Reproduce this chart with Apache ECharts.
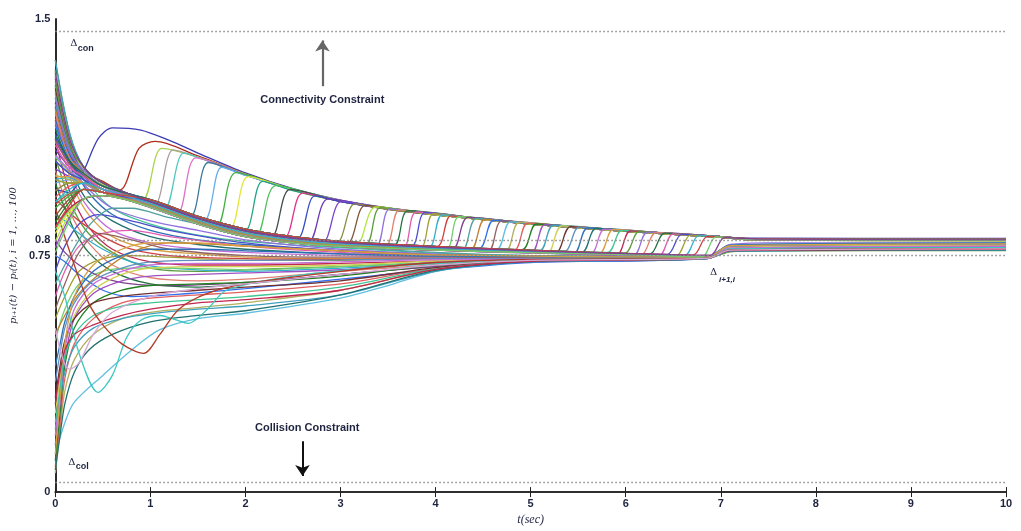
<!DOCTYPE html>
<html><head><meta charset="utf-8">
<script src="https://cdn.jsdelivr.net/npm/echarts@6/dist/echarts.min.js"></script>
<style>html,body{margin:0;padding:0;background:#fff;overflow:hidden}#c{width:1021px;height:531px}</style>
</head><body><div id="c"></div>
<script>
// ---------------- DATA ----------------
const yTickLabels = [0, 0.75, 0.8, 1.5];
const refLevels = [1.462, 0.034, 0.8, 0.75];           // Δcon, Δcol, dotted levels
const connArrow = [[2.81, 1.287], [2.81, 1.432]];
const collArrow = [[2.60, 0.161], [2.60, 0.051]];

// flat [t,y,t,y,...] lists
const decayLines = [
 [0,1.34, 0.1,1.15, 0.2,1.03, 0.35,0.95, 0.6,0.88, 1,0.83, 1.5,0.80, 2,0.785, 3,0.765, 4,0.752, 5,0.747, 6.85,0.745, 7.1,0.775, 7.5,0.78, 10,0.781],
 [0,1.29, 0.1,1.12, 0.2,1.0, 0.35,0.92, 0.6,0.86, 1,0.81, 1.5,0.785, 2,0.77, 3,0.755, 4,0.748, 5,0.745, 6.85,0.744, 7.1,0.772, 7.5,0.777, 10,0.778],
 [0,1.22, 0.1,1.08, 0.2,0.98, 0.35,0.9, 0.6,0.83, 1,0.79, 1.5,0.77, 2,0.76, 3,0.75, 4,0.746, 5,0.744, 6.85,0.743, 7.1,0.768, 7.5,0.772, 10,0.773],
 [0,1.18, 0.1,1.05, 0.2,0.96, 0.35,0.88, 0.6,0.81, 1,0.77, 1.5,0.755, 2,0.745, 3,0.74, 4,0.74, 5,0.742, 6.85,0.742, 7.1,0.765, 7.5,0.768, 10,0.769],
 [0,1.32, 0.1,1.2, 0.2,1.08, 0.35,0.98, 0.6,0.9, 1,0.85, 1.5,0.815, 2,0.795, 3,0.775, 4,0.758, 5,0.75, 6.85,0.746, 7.1,0.78, 7.5,0.786, 10,0.787],
 [0,1.12, 0.1,1.0, 0.2,0.92, 0.35,0.84, 0.6,0.77, 1,0.73, 1.5,0.72, 2,0.72, 3,0.725, 4,0.733, 5,0.738, 6.85,0.742, 7.1,0.763, 7.5,0.766, 10,0.767],
 [0,1.06, 0.1,0.97, 0.2,0.89, 0.35,0.82, 0.6,0.76, 1,0.71, 1.5,0.7, 2,0.705, 3,0.715, 4,0.727, 5,0.735, 6.85,0.741, 7.1,0.762, 7.5,0.765, 10,0.766],
 [0,1.25, 0.1,1.1, 0.2,1.02, 0.35,0.96, 0.6,0.9, 1,0.86, 1.5,0.83, 2,0.8, 3,0.77, 4,0.755, 5,0.748, 6.85,0.745, 7.1,0.785, 7.5,0.79, 10,0.79],
 [0,1.02, 0.1,0.93, 0.2,0.86, 0.35,0.79, 0.6,0.72, 1,0.68, 1.5,0.67, 2,0.675, 3,0.7, 4,0.72, 5,0.733, 6.85,0.74, 7.1,0.77, 7.5,0.775, 10,0.776],
 [0,0.98, 0.1,0.9, 0.2,0.83, 0.35,0.76, 0.6,0.7, 1,0.66, 1.5,0.65, 2,0.66, 3,0.69, 4,0.715, 5,0.73, 6.85,0.74, 7.1,0.767, 7.5,0.771, 10,0.772]
];
const midLines = [
 [0,0.62, 0.1,0.7, 0.25,0.78, 0.5,0.82, 0.8,0.83, 1.2,0.81, 2,0.78, 3,0.76, 4,0.75, 5,0.746, 6.85,0.744, 7.1,0.772, 10,0.776],
 [0,0.7, 0.1,0.78, 0.25,0.85, 0.45,0.88, 0.8,0.86, 1.2,0.83, 2,0.79, 3,0.765, 4,0.752, 6.85,0.745, 7.1,0.778, 10,0.784],
 [0,0.55, 0.1,0.62, 0.25,0.7, 0.5,0.74, 0.8,0.75, 1.2,0.745, 2,0.735, 3,0.735, 4,0.74, 6.85,0.743, 7.1,0.77, 10,0.774],
 [0,0.88, 0.1,0.86, 0.25,0.82, 0.5,0.77, 0.8,0.73, 1.2,0.71, 2,0.7, 3,0.71, 4,0.725, 5,0.735, 6.85,0.741, 7.1,0.764, 10,0.768],
 [0,0.93, 0.1,0.9, 0.25,0.86, 0.5,0.81, 0.8,0.77, 1.2,0.75, 2,0.74, 3,0.738, 4,0.74, 6.85,0.743, 7.1,0.775, 10,0.782],
 [0,0.48, 0.1,0.58, 0.25,0.66, 0.5,0.7, 0.8,0.71, 1.2,0.71, 2,0.705, 3,0.715, 4,0.728, 5,0.736, 6.85,0.741, 7.1,0.766, 10,0.77],
 [0,0.8, 0.1,0.76, 0.25,0.72, 0.5,0.68, 0.8,0.66, 1.2,0.655, 2,0.665, 3,0.69, 4,0.715, 5,0.73, 6.85,0.74, 7.1,0.768, 10,0.772],
 [0,0.66, 0.1,0.72, 0.25,0.8, 0.4,0.86, 0.6,0.9, 0.8,0.9, 1.2,0.87, 2,0.82, 3,0.78, 4,0.76, 5,0.75, 6.85,0.745, 7.1,0.782, 10,0.788],
 [0,0.5, 0.1,0.56, 0.25,0.63, 0.5,0.7, 0.8,0.76, 1.2,0.79, 2,0.78, 3,0.765, 4,0.752, 6.85,0.744, 7.1,0.774, 10,0.779],
 [0,0.75, 0.1,0.73, 0.25,0.69, 0.5,0.64, 0.8,0.62, 1.2,0.625, 2,0.645, 3,0.675, 4,0.705, 5,0.728, 6.85,0.74, 7.1,0.77, 10,0.774],
 [0,0.58, 0.1,0.66, 0.25,0.76, 0.45,0.82, 0.8,0.8, 1.2,0.77, 2,0.75, 3,0.745, 4,0.745, 6.85,0.744, 7.1,0.773, 10,0.777]
];
const riseLines = [
 [0,0.12, 0.1,0.22, 0.2,0.285, 0.5,0.37, 0.8,0.45, 1.1,0.515, 1.5,0.55, 2,0.567, 3,0.615, 3.5,0.655, 4,0.7, 4.5,0.722, 5,0.732, 6.85,0.74, 7.1,0.764, 10,0.768],
 [0,0.06, 0.05,0.2, 0.1,0.32, 0.2,0.42, 0.4,0.5, 0.7,0.55, 1,0.57, 1.5,0.585, 2,0.6, 3,0.64, 4,0.705, 5,0.732, 6.85,0.741, 7.1,0.766, 10,0.77],
 [0,0.08, 0.05,0.22, 0.1,0.36, 0.2,0.47, 0.4,0.55, 0.7,0.6, 1,0.615, 1.5,0.625, 2,0.635, 3,0.66, 4,0.71, 5,0.734, 6.85,0.742, 7.1,0.768, 10,0.772],
 [0,0.1, 0.05,0.25, 0.1,0.4, 0.2,0.52, 0.4,0.6, 0.7,0.64, 1,0.655, 1.5,0.66, 2,0.665, 3,0.685, 4,0.72, 5,0.737, 6.85,0.742, 7.1,0.77, 10,0.775],
 [0,0.15, 0.05,0.28, 0.1,0.42, 0.2,0.55, 0.4,0.63, 0.7,0.67, 1,0.685, 1.5,0.69, 2,0.695, 3,0.705, 4,0.728, 5,0.74, 6.85,0.743, 7.1,0.772, 10,0.778],
 [0,0.2, 0.05,0.3, 0.1,0.38, 0.2,0.46, 0.4,0.52, 0.7,0.55, 1,0.565, 1.5,0.58, 2,0.59, 3,0.625, 4,0.7, 5,0.73, 6.85,0.741, 7.1,0.765, 10,0.769],
 [0,0.25, 0.05,0.36, 0.1,0.46, 0.2,0.56, 0.4,0.64, 0.7,0.69, 1,0.71, 1.5,0.715, 2,0.715, 3,0.72, 4,0.733, 5,0.741, 6.85,0.744, 7.1,0.776, 10,0.783],
 [0,0.3, 0.05,0.4, 0.1,0.48, 0.2,0.55, 0.4,0.6, 0.7,0.62, 1,0.63, 1.5,0.64, 2,0.65, 3,0.67, 4,0.712, 5,0.735, 6.85,0.742, 7.1,0.769, 10,0.773],
 [0,0.35, 0.05,0.44, 0.1,0.52, 0.2,0.6, 0.4,0.67, 0.7,0.71, 1,0.73, 1.5,0.735, 2,0.735, 3,0.736, 4,0.74, 6.85,0.744, 7.1,0.78, 10,0.786],
 [0,0.4, 0.05,0.47, 0.1,0.54, 0.2,0.62, 0.4,0.7, 0.7,0.75, 1,0.77, 1.5,0.77, 2,0.765, 3,0.755, 4,0.748, 6.85,0.745, 7.1,0.783, 10,0.79],
 [0,0.07, 0.05,0.18, 0.1,0.28, 0.2,0.38, 0.35,0.45, 0.6,0.5, 1,0.54, 1.5,0.56, 2,0.575, 3,0.625, 4,0.703, 5,0.731, 6.85,0.74, 7.1,0.765, 10,0.768],
 [0,0.18, 0.05,0.32, 0.1,0.45, 0.2,0.58, 0.4,0.66, 0.7,0.7, 1,0.72, 1.5,0.725, 2,0.725, 3,0.73, 4,0.737, 6.85,0.743, 7.1,0.774, 10,0.78],
 [0,0.12, 0.05,0.3, 0.1,0.47, 0.2,0.62, 0.4,0.72, 0.7,0.77, 1,0.79, 1.5,0.79, 2,0.78, 3,0.765, 4,0.752, 6.85,0.745, 7.1,0.781, 10,0.787],
 [0,0.22, 0.05,0.33, 0.1,0.43, 0.2,0.5, 0.4,0.56, 0.7,0.59, 1,0.6, 1.5,0.61, 2,0.62, 3,0.65, 4,0.708, 5,0.733, 6.85,0.741, 7.1,0.767, 10,0.771],
 [0,0.28, 0.05,0.38, 0.1,0.45, 0.2,0.5, 0.4,0.53, 0.7,0.56, 1,0.58, 1.5,0.6, 2,0.61, 3,0.64, 4,0.706, 5,0.732, 6.85,0.741, 7.1,0.766, 10,0.77]
];
const dipLines = [
 [0,0.7, 0.1,0.62, 0.25,0.44, 0.45,0.316, 0.6,0.37, 0.75,0.49, 0.9,0.545, 1.1,0.56, 1.25,0.548, 1.4,0.535, 1.6,0.58, 1.8,0.64, 2.5,0.685, 3.5,0.715, 5,0.738, 6.85,0.742, 7.1,0.771, 10,0.775],
 [0,0.9, 0.2,0.72, 0.35,0.6, 0.5,0.53, 0.7,0.47, 0.93,0.44, 1.1,0.5, 1.3,0.58, 1.6,0.63, 2,0.66, 3,0.7, 4,0.728, 5,0.738, 6.85,0.742, 7.1,0.768, 10,0.772],
 [0,0.52, 0.08,0.42, 0.15,0.39, 0.25,0.41, 0.4,0.5, 0.6,0.57, 1,0.62, 1.5,0.645, 2,0.66, 3,0.69, 4,0.72, 5,0.735, 6.85,0.741, 7.1,0.767, 10,0.771]
];
const jumpLines = [
 [0,0.96, 0.15,0.95, 0.3,1.02, 0.45,1.12, 0.6,1.155, 0.9,1.148, 1.2,1.115, 1.5,1.075, 2,1.012, 2.5,0.962, 3,0.926, 3.5,0.901, 4,0.883, 5,0.853, 6,0.83, 7,0.81, 7.3,0.805, 10,0.804],
 [0,1.31, 0.15,1.11, 0.3,1.02, 0.5,0.985, 0.68,0.958, 0.88,1.09, 1.05,1.112, 1.5,1.066, 2,1.009, 2.5,0.96, 3,0.925, 3.5,0.9, 4,0.882, 5,0.852, 6,0.829, 7,0.81, 7.3,0.804, 10,0.802],
 [0,1.26, 0.15,1.09, 0.3,1.01, 0.5,0.975, 0.7,0.95, 0.92,0.927, 1.12,1.09, 1.5,1.062, 2,1.008, 2.5,0.96, 3,0.925, 3.5,0.9, 4,0.882, 5,0.852, 6,0.829, 7,0.81, 7.3,0.803, 10,0.801],
 [0,1.21, 0.15,1.08, 0.3,1.01, 0.5,0.97, 0.8,0.935, 1.04,0.91, 1.24,1.085, 1.5,1.062, 2,1.007, 2.5,0.959, 3,0.924, 3.5,0.9, 4,0.881, 5,0.851, 6,0.829, 7,0.81, 7.3,0.803, 10,0.801],
 [0,1.16, 0.15,1.06, 0.3,1.0, 0.5,0.96, 1,0.915, 1.15,0.897, 1.35,1.075, 1.6,1.05, 2,1.006, 2.5,0.959, 3,0.924, 3.5,0.899, 4,0.881, 5,0.851, 6,0.828, 7,0.809, 7.3,0.802, 10,0.8],
 [0,1.11, 0.15,1.04, 0.3,0.99, 0.5,0.95, 1,0.914, 1.28,0.883, 1.48,1.06, 2,1.006, 2.5,0.958, 3,0.924, 3.5,0.899, 4,0.881, 5,0.851, 6,0.828, 7,0.809, 7.3,0.802, 10,0.8],
 [0,1.05, 0.15,1.01, 0.3,0.98, 0.5,0.95, 1,0.915, 1.41,0.87, 1.61,1.045, 2,1.005, 2.5,0.958, 3,0.923, 3.5,0.899, 4,0.88, 5,0.851, 6,0.828, 7,0.809, 7.3,0.802, 10,0.8],
 [0,0.98, 0.15,0.99, 0.3,0.98, 0.5,0.96, 1,0.916, 1.55,0.857, 1.75,1.03, 2,1.004, 2.5,0.958, 3,0.923, 3.5,0.899, 4,0.88, 5,0.851, 6,0.828, 7,0.809, 7.3,0.802, 10,0.8],
 [0,0.9, 0.15,0.94, 0.3,0.96, 0.5,0.95, 1,0.913, 1.5,0.861, 1.7,0.845, 1.9,1.013, 2.5,0.957, 3,0.923, 3.5,0.898, 4,0.88, 5,0.85, 6,0.828, 7,0.809, 7.3,0.801, 10,0.799],
 [0,0.82, 0.15,0.89, 0.3,0.93, 0.5,0.94, 1,0.914, 1.5,0.862, 1.83,0.835, 2.03,1.0, 2.5,0.957, 3,0.922, 3.5,0.898, 4,0.88, 5,0.85, 6,0.828, 7,0.809, 7.3,0.801, 10,0.799],
 [0,1.335, 0.15,1.12, 0.3,1.03, 0.5,0.98, 1,0.917, 1.5,0.863, 1.98,0.823, 2.18,0.985, 2.5,0.956, 3,0.922, 3.5,0.898, 4,0.88, 5,0.85, 6,0.828, 7,0.809, 7.3,0.801, 10,0.8],
 [0,1.285, 0.15,1.1, 0.3,1.02, 0.5,0.97, 1,0.916, 1.5,0.862, 2,0.822, 2.12,0.816, 2.32,0.972, 3,0.922, 3.5,0.898, 4,0.879, 5,0.85, 6,0.827, 7,0.808, 7.3,0.8, 10,0.799],
 [0,1.235, 0.15,1.08, 0.3,1.01, 0.5,0.96, 1,0.915, 1.5,0.862, 2,0.822, 2.27,0.809, 2.47,0.96, 3,0.922, 3.5,0.898, 4,0.879, 5,0.85, 6,0.827, 7,0.808, 7.3,0.8, 10,0.799],
 [0,1.185, 0.15,1.07, 0.3,1.01, 0.5,0.97, 1,0.914, 1.5,0.861, 2,0.821, 2.4,0.804, 2.6,0.948, 3,0.921, 3.5,0.897, 4,0.879, 5,0.85, 6,0.827, 7,0.808, 7.3,0.8, 10,0.799],
 [0,1.135, 0.15,1.05, 0.3,1.0, 0.5,0.96, 1,0.915, 1.5,0.862, 2,0.822, 2.53,0.799, 2.73,0.939, 3,0.921, 3.5,0.897, 4,0.879, 5,0.85, 6,0.827, 7,0.808, 7.3,0.8, 10,0.798],
 [0,1.085, 0.15,1.03, 0.3,0.99, 0.5,0.95, 1,0.916, 1.5,0.863, 2,0.823, 2.5,0.8, 2.67,0.795, 2.87,0.93, 3.5,0.897, 4,0.879, 5,0.85, 6,0.827, 7,0.808, 7.3,0.8, 10,0.798],
 [0,1.025, 0.15,1.0, 0.3,0.98, 0.5,0.95, 1,0.915, 1.5,0.862, 2,0.822, 2.5,0.8, 2.81,0.792, 3.01,0.922, 3.5,0.897, 4,0.879, 5,0.85, 6,0.827, 7,0.808, 7.3,0.8, 10,0.798],
 [0,0.955, 0.15,0.98, 0.3,0.98, 0.5,0.96, 1,0.914, 1.5,0.861, 2,0.821, 2.5,0.8, 2.95,0.788, 3.15,0.914, 3.5,0.896, 4,0.879, 5,0.85, 6,0.827, 7,0.808, 7.3,0.8, 10,0.798],
 [0,0.875, 0.15,0.93, 0.3,0.96, 0.5,0.95, 1,0.913, 1.5,0.86, 2,0.82, 2.5,0.799, 3.06,0.786, 3.26,0.909, 3.7,0.892, 4,0.879, 5,0.85, 6,0.827, 7,0.808, 7.3,0.8, 10,0.797],
 [0,0.795, 0.15,0.88, 0.3,0.93, 0.5,0.94, 1,0.915, 1.5,0.862, 2,0.822, 2.5,0.8, 3,0.787, 3.17,0.784, 3.37,0.904, 4,0.879, 5,0.85, 6,0.827, 7,0.808, 7.3,0.8, 10,0.797],
 [0,1.37, 0.15,1.136, 0.3,1.03, 0.5,0.98, 1,0.921, 1.5,0.868, 2,0.828, 2.5,0.805, 3,0.791, 3.27,0.786, 3.42,0.902, 4,0.882, 5,0.852, 6,0.829, 7,0.81, 7.3,0.803, 10,0.8],
 [0,1.322, 0.15,1.116, 0.3,1.02, 0.5,0.97, 1,0.909, 1.5,0.856, 2,0.816, 2.5,0.795, 3,0.783, 3.37,0.778, 3.52,0.898, 4,0.882, 5,0.852, 6,0.829, 7,0.81, 7.3,0.802, 10,0.8],
 [0,1.272, 0.15,1.096, 0.3,1.01, 0.5,0.96, 1,0.915, 1.5,0.862, 2,0.822, 2.5,0.8, 3,0.787, 3.47,0.779, 3.62,0.895, 4,0.882, 5,0.852, 6,0.829, 7,0.81, 7.3,0.802, 10,0.799],
 [0,1.222, 0.15,1.086, 0.3,1.01, 0.5,0.97, 1,0.927, 1.5,0.874, 2,0.834, 2.5,0.81, 3,0.795, 3.56,0.782, 3.71,0.892, 4.5,0.866, 5,0.852, 6,0.829, 7,0.81, 7.3,0.802, 10,0.801],
 [0,1.172, 0.15,1.066, 0.3,1.0, 0.5,0.96, 1,0.903, 1.5,0.85, 2,0.81, 2.5,0.79, 3,0.779, 3.65,0.772, 3.8,0.888, 4.5,0.866, 5,0.852, 6,0.829, 7,0.81, 7.3,0.801, 10,0.799],
 [0,1.122, 0.15,1.046, 0.3,0.99, 0.5,0.95, 1,0.921, 1.5,0.868, 2,0.828, 2.5,0.805, 3,0.791, 3.74,0.779, 3.89,0.886, 4.5,0.866, 5,0.852, 6,0.829, 7,0.81, 7.3,0.802, 10,0.8],
 [0,1.062, 0.15,1.016, 0.3,0.98, 0.5,0.95, 1,0.909, 1.5,0.856, 2,0.816, 2.5,0.795, 3,0.783, 3.83,0.772, 3.98,0.883, 4.5,0.866, 5,0.852, 6,0.829, 7,0.81, 7.3,0.801, 10,0.798],
 [0,0.992, 0.15,0.996, 0.3,0.98, 0.5,0.96, 1,0.915, 1.5,0.862, 2,0.822, 2.5,0.8, 3,0.787, 3.92,0.774, 4.07,0.879, 4.5,0.866, 5,0.852, 6,0.829, 7,0.81, 7.3,0.802, 10,0.8],
 [0,0.912, 0.15,0.946, 0.3,0.96, 0.5,0.95, 1,0.927, 1.5,0.874, 2,0.834, 2.5,0.81, 3,0.795, 4.01,0.778, 4.16,0.876, 4.5,0.866, 5,0.852, 6,0.829, 7,0.81, 7.3,0.803, 10,0.801],
 [0,0.832, 0.15,0.896, 0.3,0.93, 0.5,0.94, 1,0.903, 1.5,0.85, 2,0.81, 2.5,0.79, 3,0.779, 4.1,0.767, 4.25,0.873, 5,0.852, 6,0.829, 7,0.81, 7.3,0.801, 10,0.798],
 [0,1.315, 0.15,1.11, 0.3,1.03, 0.5,0.98, 1,0.921, 1.5,0.868, 2,0.828, 2.5,0.805, 3,0.791, 4,0.776, 4.19,0.774, 4.34,0.871, 5,0.852, 6,0.829, 7,0.81, 7.3,0.802, 10,0.8],
 [0,1.265, 0.15,1.09, 0.3,1.02, 0.5,0.97, 1,0.909, 1.5,0.856, 2,0.816, 2.5,0.795, 3,0.783, 4,0.77, 4.28,0.767, 4.43,0.868, 5,0.852, 6,0.829, 7,0.81, 7.3,0.801, 10,0.799],
 [0,1.215, 0.15,1.07, 0.3,1.01, 0.5,0.96, 1,0.915, 1.5,0.862, 2,0.822, 2.5,0.8, 3,0.787, 4,0.773, 4.37,0.769, 4.52,0.865, 5,0.852, 6,0.829, 7,0.81, 7.3,0.802, 10,0.8],
 [0,1.165, 0.15,1.06, 0.3,1.01, 0.5,0.97, 1,0.927, 1.5,0.874, 2,0.834, 2.5,0.81, 3,0.795, 4,0.779, 4.46,0.773, 4.61,0.862, 5,0.852, 6,0.829, 7,0.81, 7.3,0.803, 10,0.802],
 [0,1.115, 0.15,1.04, 0.3,1.0, 0.5,0.96, 1,0.903, 1.5,0.85, 2,0.81, 2.5,0.79, 3,0.779, 4,0.767, 4.55,0.763, 4.7,0.86, 5.5,0.84, 6,0.829, 7,0.81, 7.3,0.801, 10,0.798],
 [0,1.065, 0.15,1.02, 0.3,0.99, 0.5,0.95, 1,0.921, 1.5,0.868, 2,0.828, 2.5,0.805, 3,0.791, 4,0.776, 4.64,0.769, 4.79,0.857, 5.5,0.84, 6,0.829, 7,0.81, 7.3,0.802, 10,0.8],
 [0,1.005, 0.15,0.99, 0.3,0.98, 0.5,0.95, 1,0.909, 1.5,0.856, 2,0.816, 2.5,0.795, 3,0.783, 4,0.77, 4.73,0.762, 4.88,0.855, 5.5,0.84, 6,0.829, 7,0.81, 7.3,0.801, 10,0.799],
 [0,0.935, 0.15,0.97, 0.3,0.98, 0.5,0.96, 1,0.915, 1.5,0.862, 2,0.822, 2.5,0.8, 3,0.787, 4,0.773, 4.82,0.765, 4.97,0.853, 5.5,0.84, 6,0.829, 7,0.81, 7.3,0.802, 10,0.8],
 [0,0.855, 0.15,0.92, 0.3,0.96, 0.5,0.95, 1,0.927, 1.5,0.874, 2,0.834, 2.5,0.81, 3,0.795, 4,0.779, 4.91,0.769, 5.06,0.85, 5.5,0.84, 6,0.829, 7,0.81, 7.3,0.803, 10,0.801],
 [0,0.775, 0.15,0.87, 0.3,0.93, 0.5,0.94, 1,0.903, 1.5,0.85, 2,0.81, 2.5,0.79, 3,0.779, 4,0.767, 5,0.758, 5.15,0.848, 5.5,0.84, 6,0.829, 7,0.81, 7.3,0.801, 10,0.798],
 [0,1.37, 0.15,1.14, 0.3,1.03, 0.5,0.98, 1,0.921, 1.5,0.868, 2,0.828, 2.5,0.805, 3,0.791, 4,0.776, 5.09,0.764, 5.24,0.846, 6,0.829, 7,0.81, 7.3,0.802, 10,0.8],
 [0,1.33, 0.15,1.12, 0.3,1.02, 0.5,0.97, 1,0.909, 1.5,0.856, 2,0.816, 2.5,0.795, 3,0.783, 4,0.77, 5,0.761, 5.18,0.758, 5.33,0.844, 6,0.829, 7,0.81, 7.3,0.801, 10,0.799],
 [0,1.28, 0.15,1.1, 0.3,1.01, 0.5,0.96, 1,0.915, 1.5,0.862, 2,0.822, 2.5,0.8, 3,0.787, 4,0.773, 5,0.763, 5.27,0.761, 5.42,0.842, 6,0.829, 7,0.81, 7.3,0.802, 10,0.8],
 [0,1.23, 0.15,1.09, 0.3,1.01, 0.5,0.97, 1,0.927, 1.5,0.874, 2,0.834, 2.5,0.81, 3,0.795, 4,0.779, 5,0.767, 5.36,0.764, 5.51,0.84, 6,0.829, 7,0.81, 7.3,0.803, 10,0.802],
 [0,1.18, 0.15,1.07, 0.3,1.0, 0.5,0.96, 1,0.903, 1.5,0.85, 2,0.81, 2.5,0.79, 3,0.779, 4,0.767, 5,0.759, 5.45,0.755, 5.6,0.838, 6,0.829, 7,0.81, 7.3,0.801, 10,0.798],
 [0,1.13, 0.15,1.05, 0.3,0.99, 0.5,0.95, 1,0.921, 1.5,0.868, 2,0.828, 2.5,0.805, 3,0.791, 4,0.776, 5,0.765, 5.54,0.761, 5.69,0.836, 6.5,0.819, 7,0.81, 7.3,0.802, 10,0.8],
 [0,1.07, 0.15,1.02, 0.3,0.98, 0.5,0.95, 1,0.909, 1.5,0.856, 2,0.816, 2.5,0.795, 3,0.783, 4,0.77, 5,0.761, 5.63,0.755, 5.78,0.834, 6.5,0.819, 7,0.81, 7.3,0.801, 10,0.799],
 [0,1.0, 0.15,1.0, 0.3,0.98, 0.5,0.96, 1,0.915, 1.5,0.862, 2,0.822, 2.5,0.8, 3,0.787, 4,0.773, 5,0.763, 5.72,0.757, 5.87,0.832, 6.5,0.819, 7,0.81, 7.3,0.802, 10,0.8],
 [0,0.92, 0.15,0.95, 0.3,0.96, 0.5,0.95, 1,0.927, 1.5,0.874, 2,0.834, 2.5,0.81, 3,0.795, 4,0.779, 5,0.767, 5.81,0.76, 5.96,0.83, 6.5,0.819, 7,0.81, 7.3,0.803, 10,0.801],
 [0,0.84, 0.15,0.9, 0.3,0.93, 0.5,0.94, 1,0.903, 1.5,0.85, 2,0.81, 2.5,0.79, 3,0.779, 4,0.767, 5,0.759, 5.9,0.751, 6.05,0.828, 6.5,0.819, 7,0.81, 7.3,0.801, 10,0.798],
 [0,1.3, 0.15,1.1, 0.3,1.03, 0.5,0.98, 1,0.921, 1.5,0.868, 2,0.828, 2.5,0.805, 3,0.791, 4,0.776, 5,0.765, 5.99,0.758, 6.14,0.826, 6.5,0.819, 7,0.81, 7.3,0.802, 10,0.8],
 [0,1.25, 0.15,1.08, 0.3,1.02, 0.5,0.97, 1,0.909, 1.5,0.856, 2,0.816, 2.5,0.795, 3,0.783, 4,0.77, 5,0.761, 6.08,0.751, 6.23,0.824, 7,0.81, 7.3,0.801, 10,0.799],
 [0,1.2, 0.15,1.06, 0.3,1.01, 0.5,0.96, 1,0.915, 1.5,0.862, 2,0.822, 2.5,0.8, 3,0.787, 4,0.773, 5,0.763, 6,0.755, 6.17,0.754, 6.32,0.823, 7,0.81, 7.3,0.802, 10,0.8],
 [0,1.15, 0.15,1.05, 0.3,1.01, 0.5,0.97, 1,0.927, 1.5,0.874, 2,0.834, 2.5,0.81, 3,0.795, 4,0.779, 5,0.767, 6,0.757, 6.26,0.756, 6.41,0.821, 7,0.81, 7.3,0.803, 10,0.802],
 [0,1.1, 0.15,1.03, 0.3,1.0, 0.5,0.96, 1,0.903, 1.5,0.85, 2,0.81, 2.5,0.79, 3,0.779, 4,0.767, 5,0.759, 6,0.753, 6.35,0.749, 6.5,0.819, 7,0.81, 7.3,0.801, 10,0.798],
 [0,1.05, 0.15,1.01, 0.3,0.99, 0.5,0.95, 1,0.921, 1.5,0.868, 2,0.828, 2.5,0.805, 3,0.791, 4,0.776, 5,0.765, 6,0.756, 6.44,0.754, 6.59,0.817, 7,0.81, 7.3,0.802, 10,0.8],
 [0,0.99, 0.15,0.98, 0.3,0.98, 0.5,0.95, 1,0.909, 1.5,0.856, 2,0.816, 2.5,0.795, 3,0.783, 4,0.77, 5,0.761, 6,0.754, 6.53,0.749, 6.68,0.815, 7,0.81, 7.3,0.801, 10,0.799],
 [0,0.92, 0.15,0.96, 0.3,0.98, 0.5,0.96, 1,0.915, 1.5,0.862, 2,0.822, 2.5,0.8, 3,0.787, 4,0.773, 5,0.763, 6,0.755, 6.62,0.75, 6.77,0.813, 7.3,0.803, 10,0.801],
 [0,0.84, 0.15,0.91, 0.3,0.96, 0.5,0.95, 1,0.927, 1.5,0.874, 2,0.834, 2.5,0.81, 3,0.795, 4,0.779, 5,0.767, 6,0.757, 6.71,0.752, 6.86,0.811, 7.3,0.803, 10,0.802],
 [0,0.76, 0.15,0.86, 0.3,0.93, 0.5,0.94, 1,0.903, 1.5,0.85, 2,0.81, 2.5,0.79, 3,0.779, 4,0.767, 5,0.759, 6,0.753, 6.8,0.746, 6.95,0.809, 7.3,0.801, 10,0.798],
 [0,1.33, 0.15,1.12, 0.3,1.03, 0.5,0.98, 1,0.921, 1.5,0.868, 2,0.828, 2.5,0.805, 3,0.791, 4,0.776, 5,0.765, 6,0.756, 6.89,0.751, 7.04,0.807, 7.4,0.802, 10,0.8]
];

// ---------------- STYLE ----------------
const jumpColors = ['#3c3cb4','#b02c1c','#a8d44c','#a89c9c','#50c8c0','#e070c4','#3c7898','#64acec','#44b044','#e4e434',
  '#20a488','#4cc05c','#444c4c','#e0348c','#3450c4','#6c3cb4','#7c48cc','#8c8c40','#805434','#b4e440'];
const palette = ['#2c70b8','#207070','#c470d8','#d8a040','#40c494','#c02850','#5c9c3c','#9070e0','#e08070','#207040',
  '#e05cb0','#4c4cd0','#a0a030','#30b0d0','#d04040','#70d070','#804090','#50a0a0','#c08030','#3070f0',
  '#906060','#60c0e0','#b0b060','#e06060','#208020','#a050c0','#40a0c0','#d0d050','#703030','#6090c0'];
const txtColor = '#1e2440';

function pairs(flat){ const out=[]; for(let i=0;i<flat.length;i+=2) out.push([flat[i],flat[i+1]]); return out; }

const series = [];
let pc = 0;
function addLine(flat, color){
  series.push({type:'line', data:pairs(flat), smooth:0.3, showSymbol:false, symbol:'none',
    lineStyle:{width:1.3, color:color}, z:3, silent:true});
}
decayLines.forEach(l=>addLine(l, palette[(pc++)%palette.length]));
midLines.forEach(l=>addLine(l, palette[(pc++)%palette.length]));
riseLines.forEach(l=>addLine(l, palette[(pc++)%palette.length]));
addLine(dipLines[0], '#3cc8c0');
addLine(dipLines[1], '#b03c28');
addLine(dipLines[2], '#d8a8d8');
jumpLines.forEach((l,i)=>addLine(l, i<jumpColors.length ? jumpColors[i] : palette[(pc++)%palette.length]));

// reference dotted levels
series.push({type:'line', data:[], z:1, silent:true,
  markLine:{silent:true, symbol:['none','none'], label:{show:false},
    lineStyle:{type:[1.5,2.5], color:'#8a8a8a', width:1.4},
    data: refLevels.map(v=>({yAxis:v}))}});
// arrows
series.push({type:'line', data:[], z:5, silent:true, itemStyle:{color:'#222'},
  markLine:{silent:true, symbol:['none','arrow'], symbolSize:11, label:{show:false},
    data:[
      [{coord:connArrow[0], symbol:'none', lineStyle:{color:'#666', width:2.2, type:'solid'}, itemStyle:{color:'#222'}},
       {coord:connArrow[1], symbol:'arrow', symbolSize:11, itemStyle:{color:'#222'}}],
      [{coord:collArrow[0], symbol:'none', lineStyle:{color:'#111', width:2, type:'solid'}, itemStyle:{color:'#111'}},
       {coord:collArrow[1], symbol:'arrow', symbolSize:11, itemStyle:{color:'#111'}}]
    ]}});

const chart = echarts.init(document.getElementById('c'), null, {renderer:'canvas'});
const axisFont = {fontFamily:'Liberation Sans', fontWeight:'bold', fontSize:11, color:txtColor};
chart.setOption({
  animation:false,
  backgroundColor:'#fff',
  grid:{left:55, right:15, top:19, bottom:33},
  xAxis:[
    {type:'value', min:0, max:10, interval:1, position:'bottom',
     axisLine:{lineStyle:{color:'#222', width:1.6}}, axisTick:{inside:true, length:5, lineStyle:{color:'#222'}},
     axisLabel:Object.assign({margin:6}, axisFont), splitLine:{show:false},
     name:'t(sec)', nameLocation:'middle', nameGap:19,
     nameTextStyle:{fontFamily:'Liberation Serif', fontStyle:'italic', fontSize:12, color:txtColor}},
    {type:'value', min:0, max:10, interval:1, position:'top',
     axisLine:{lineStyle:{color:'#222', width:1.6}}, axisTick:{inside:true, length:5, lineStyle:{color:'#222'}},
     axisLabel:{show:false}, splitLine:{show:false}}
  ],
  yAxis:[
    {type:'value', min:0, max:1.5, position:'left',
     axisLine:{lineStyle:{color:'#222', width:1.6}}, axisTick:{show:false},
     axisLabel:Object.assign({margin:5, customValues:yTickLabels, formatter:v=>String(v)}, axisFont),
     splitLine:{show:false},
     name:'p\u1D62\u208A\u2081(t) \u2212 p\u1D62(t), i = 1, \u2026, 100', nameLocation:'middle', nameGap:30,
     nameTextStyle:{fontFamily:'DejaVu Serif', fontStyle:'italic', fontSize:10, color:txtColor}},
    {type:'value', min:0, max:1.5, position:'right',
     axisLine:{lineStyle:{color:'#222', width:1.6}}, axisTick:{show:false}, axisLabel:{show:false}, splitLine:{show:false}}
  ],
  series:series
});

// annotation texts placed in data coordinates
const annotations = [
  {text:'\u0394', at:[0.158,1.422], font:'10px "DejaVu Serif"', align:'left'},
  {text:'con', at:[0.237,1.405], font:'bold 9px "Liberation Sans"', align:'left'},
  {text:'\u0394', at:[0.137,0.094], font:'10px "DejaVu Serif"', align:'left'},
  {text:'col', at:[0.216,0.082], font:'bold 9px "Liberation Sans"', align:'left'},
  {text:'\u0394', at:[6.887,0.697], font:'10px "DejaVu Serif"', align:'left'},
  {text:'i+1,i', at:[6.982,0.673], font:'italic bold 8px "Liberation Sans"', align:'left'},
  {text:'Connectivity Constraint', at:[2.808,1.243], font:'bold 11px "Liberation Sans"', align:'center'},
  {text:'Collision Constraint', at:[2.65,0.204], font:'bold 11px "Liberation Sans"', align:'center'}
];
const graphic = annotations.map(a=>{
  const p = chart.convertToPixel({gridIndex:0}, a.at);
  return {type:'text', x:p[0], y:p[1], z:10, silent:true,
    style:{text:a.text, font:a.font, fill:txtColor, align:a.align, verticalAlign:'middle'}};
});
chart.setOption({graphic:graphic});
</script>
</body></html>
